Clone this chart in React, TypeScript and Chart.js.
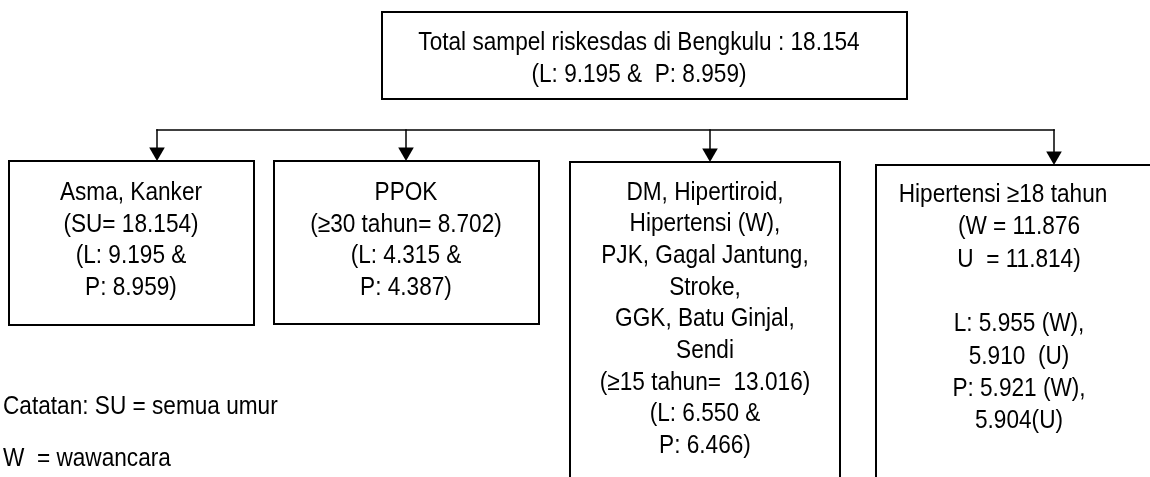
import React, { useEffect, useRef } from "react";
import { Chart, registerables } from "chart.js";

Chart.register(...registerables);

// ---- Content (text) ----
const topBoxLines = ["Total sampel riskesdas di Bengkulu : 18.154", "(L: 9.195 &  P: 8.959)"];
const asmaLines = ["Asma, Kanker", "(SU= 18.154)", "(L: 9.195 &", "P: 8.959)"];
const ppokLines = ["PPOK", "(≥30 tahun= 8.702)", "(L: 4.315 &", "P: 4.387)"];
const dmLines = [
  "DM, Hipertiroid,",
  "Hipertensi (W),",
  "PJK, Gagal Jantung,",
  "Stroke,",
  "GGK, Batu Ginjal,",
  "Sendi",
  "(≥15 tahun=  13.016)",
  "(L: 6.550 &",
  "P: 6.466)",
];
const hipertensiLines = [
  "Hipertensi ≥18 tahun",
  "(W = 11.876",
  "U  = 11.814)",
  "",
  "L: 5.955 (W),",
  "5.910  (U)",
  "P: 5.921 (W),",
  "5.904(U)",
];
const noteLines = ["Catatan: SU = semua umur", "W  = wawancara"];

// ---- Layout (diagram coordinates, y grows downward) ----
const W = 1150;
const H = 477;
const boxes = [
  { x0: 382, y0: 12, x1: 907, y1: 99 },
  { x0: 9, y0: 161, x1: 254, y1: 325 },
  { x0: 274, y0: 161, x1: 539, y1: 324 },
  { x0: 570, y0: 162, x1: 840, y1: 495 },
  { x0: 876, y0: 165, x1: 1170, y1: 495 },
];
const busY = 130;
const arrowX = [157, 406, 710, 1054];
const arrowTipY = [161, 161, 162, 165];
const arrowR = 9;

type Block = { lines: string[]; x: number; y: number; step: number; align: CanvasTextAlign; firstX?: number };
const blocks: Block[] = [
  { lines: topBoxLines, x: 639, y: 49.5, step: 32.5, align: "center" },
  { lines: asmaLines, x: 131, y: 200, step: 31.7, align: "center" },
  { lines: ppokLines, x: 406, y: 200, step: 31.7, align: "center" },
  { lines: dmLines, x: 705, y: 199.5, step: 31.7, align: "center" },
  { lines: hipertensiLines, x: 1019, y: 202, step: 32.3, align: "center", firstX: 1003 },
  { lines: noteLines, x: 3, y: 414, step: 52, align: "left" },
];

const FONT_SIZE = 26;
const SCALE_X = 0.87;

const textPlugin = {
  id: "diagramText",
  afterDatasetsDraw(chart: any) {
    const { ctx, scales } = chart;
    const xs = scales.x;
    const ys = scales.y;
    ctx.save();
    ctx.fillStyle = "#000";
    ctx.font = `${FONT_SIZE}px "Liberation Sans", Arial, sans-serif`;
    ctx.textBaseline = "alphabetic";
    blocks.forEach((b) => {
      b.lines.forEach((line, i) => {
        if (!line) return;
        const vx = i === 0 && b.firstX !== undefined ? b.firstX : b.x;
        const px = xs.getPixelForValue(vx);
        const py = ys.getPixelForValue(b.y + i * b.step);
        ctx.save();
        ctx.translate(px, py);
        ctx.scale(SCALE_X, 1);
        ctx.textAlign = b.align;
        ctx.fillText(line, 0, 0);
        ctx.restore();
      });
    });
    ctx.restore();
  },
};

export default function App() {
  const ref = useRef<HTMLCanvasElement | null>(null);

  useEffect(() => {
    document.body.style.margin = "0";
    if (!ref.current) return;

    const boxSets = boxes.map((b) => ({
      data: [
        { x: b.x0, y: b.y0 },
        { x: b.x1, y: b.y0 },
        { x: b.x1, y: b.y1 },
        { x: b.x0, y: b.y1 },
        { x: b.x0, y: b.y0 },
      ],
      showLine: true,
      borderColor: "#000",
      borderWidth: 2,
      borderJoinStyle: "miter" as const,
      borderCapStyle: "square" as const,
      pointRadius: 0,
      fill: false,
      tension: 0,
    }));

    const busSet = {
      data: [
        { x: arrowX[0], y: busY },
        { x: arrowX[arrowX.length - 1], y: busY },
      ],
      showLine: true,
      borderColor: "#000",
      borderWidth: 1.5,
      borderCapStyle: "square" as const,
      pointRadius: 0,
    };

    const stemSets = arrowX.map((x, i) => ({
      data: [
        { x, y: busY },
        { x, y: arrowTipY[i] - arrowR },
      ],
      showLine: true,
      borderColor: "#000",
      borderWidth: 1.5,
      borderCapStyle: "square" as const,
      pointRadius: 0,
    }));

    const arrowSet = {
      data: arrowX.map((x, i) => ({ x, y: arrowTipY[i] - arrowR })),
      showLine: false,
      pointStyle: "triangle" as const,
      pointRotation: 180,
      pointRadius: arrowR,
      pointBackgroundColor: "#000",
      pointBorderColor: "#000",
      pointBorderWidth: 0,
    };

    const chart = new Chart(ref.current, {
      type: "scatter",
      data: { datasets: [...boxSets, busSet, ...stemSets, arrowSet] as any },
      options: {
        animation: false,
        responsive: false,
        maintainAspectRatio: false,
        events: [],
        layout: { padding: 0, autoPadding: false },
        plugins: { legend: { display: false }, tooltip: { enabled: false } },
        scales: {
          x: { type: "linear", min: 0, max: W, display: false },
          y: { type: "linear", min: 0, max: H, reverse: true, display: false },
        },
      },
      plugins: [textPlugin],
    });
    return () => chart.destroy();
  }, []);

  return (
    <div style={{ width: W, height: H, background: "#fff" }}>
      <canvas ref={ref} width={W} height={H} style={{ display: "block" }} />
    </div>
  );
}
